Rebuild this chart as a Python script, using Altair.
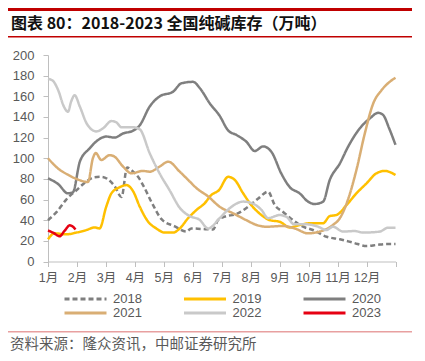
import altair as alt
import pandas as pd

years = ["2018", "2019", "2020", "2021", "2022", "2023"]
colors = ["#7F7F7F", "#FFC000", "#7F7F7F", "#D9AE74", "#C9C9C9", "#E60012"]
dashes = [[5, 3], [1, 0], [1, 0], [1, 0], [1, 0], [1, 0]]
month_labels = ["1月", "2月", "3月", "4月", "5月", "6月", "7月", "8月", "9月", "10月", "11月", "12月"]

title_text = "图表 80：2018-2023 全国纯碱库存（万吨）"
source_text = "资料来源：隆众资讯，中邮证券研究所"

# x positions are in months from the start of January (0 = 1月 tick)
x_2018 = [0, 0.3, 0.63, 0.98, 1.3, 1.6, 1.85, 2.05, 2.3, 2.54, 2.73, 2.94, 3.11, 3.3, 3.62, 3.92,
          4.38, 4.78, 4.95, 5.3, 5.7, 5.87, 6.1, 6.51, 6.91, 7.26, 7.6, 7.83, 8.12, 8.46, 8.81,
          9.15, 9.62, 10.08, 10.54, 11.0, 11.34, 11.69, 12.0]
v_2018 = [40, 48, 60, 69, 77, 81.5, 82, 80, 73, 62.5, 91, 87, 82, 73, 55, 41,
          34, 29, 32, 31.5, 31, 40, 43.4, 46, 53, 61, 67.6, 54.7, 48, 40, 33.7,
          30.5, 24, 21.5, 18.2, 15, 16, 17, 17]

x_2019 = [0, 0.23, 0.63, 0.98, 1.33, 1.61, 1.78, 2.01, 2.19, 2.48, 2.71, 2.94, 3.17, 3.46, 3.74,
          4.03, 4.32, 4.55, 4.84, 5.13, 5.41, 5.64, 5.9, 6.22, 6.45, 6.74, 7.02, 7.37, 7.66,
          8.0, 8.35, 8.69, 9.04, 9.5, 9.73, 9.96, 10.31, 10.65, 11.0, 11.34, 11.63, 12.0]
v_2019 = [21.5, 27.3, 26.3, 28, 30.5, 33, 32, 53, 66, 72, 74, 68, 53, 38.5, 32,
          28, 28, 32, 42, 50, 56.4, 64.4, 69, 82, 79, 66, 54.7, 45, 40,
          38.5, 33, 35.4, 37, 37, 44, 45, 54.7, 66, 75.7, 85.4, 87.7, 83.8]

x_2020 = [0, 0.35, 0.69, 0.86, 1.1, 1.44, 1.73, 2.02, 2.3, 2.59, 2.94, 3.17, 3.51, 3.86, 4.32,
          4.61, 5.01, 5.24, 5.59, 5.93, 6.22, 6.51, 6.85, 7.14, 7.43, 7.72, 8.06, 8.35, 8.69,
          8.98, 9.21, 9.5, 9.73, 10.08, 10.36, 10.77, 11.12, 11.4, 11.57, 11.78, 12.0]
v_2020 = [80.6, 75, 66, 67, 96.7, 109.6, 117.7, 121, 120, 124, 126.7, 132, 150, 160, 164.5,
          172.6, 174, 168, 153, 141, 127, 122.5, 116, 107, 111.5, 106, 85, 72, 66,
          58, 55.7, 58, 79, 95, 111, 129, 138.7, 144, 142, 129, 113]

x_2021 = [0, 0.35, 0.69, 0.98, 1.38, 1.55, 1.65, 1.84, 2.13, 2.3, 2.59, 2.88, 3.28, 3.51, 3.86,
          4.15, 4.55, 4.84, 5.13, 5.53, 5.93, 6.39, 6.85, 7.2, 7.54, 8.12, 8.52, 8.98, 9.38,
          9.84, 10.08, 10.36, 10.65, 10.94, 11.23, 11.52, 11.8, 12.0]
v_2021 = [100, 90, 84, 80, 77, 100, 105, 98.3, 103, 101.5, 92, 85.4, 87.7, 87, 92,
          96.7, 87, 79, 71, 63, 53, 46.7, 40, 35.4, 33.7, 34.4, 32, 27.3, 29,
          35.4, 42, 60, 88.6, 124, 153, 166, 174, 178]

x_2022 = [0, 0.17, 0.35, 0.55, 0.69, 0.8, 0.92, 1.1, 1.35, 1.67, 1.9, 2.19, 2.35, 2.54, 2.94,
          3.17, 3.51, 3.86, 4.2, 4.55, 4.89, 5.23, 5.53, 5.93, 6.27, 6.74, 7.08, 7.37, 7.6,
          8.0, 8.25, 8.5, 8.93, 9.3, 9.62, 9.84, 10.19, 10.59, 10.88, 11.46, 11.74, 12.0]
v_2022 = [177, 175, 166, 150, 145, 155, 161, 150, 133, 126, 129, 136, 135, 130, 130,
          128, 105, 85, 69, 52, 44, 40.5, 32, 42, 51.5, 58, 56, 50, 42,
          45, 43, 36, 36, 34, 30.5, 33.7, 29, 29.5, 28, 29, 32.7, 32.7]

x_2023 = [0, 0.17, 0.4, 0.58, 0.75, 0.85, 0.95]
v_2023 = [30, 28, 24.5, 30, 35, 34, 31]

series_x = [x_2018, x_2019, x_2020, x_2021, x_2022, x_2023]
series_v = [v_2018, v_2019, v_2020, v_2021, v_2022, v_2023]
rows = []
for yr, xs, vs in zip(years, series_x, series_v):
    for xv, vv in zip(xs, vs):
        rows.append({"year": yr, "month": xv, "value": vv})
df = pd.DataFrame(rows)

FONT = "Liberation Sans, Arial, Noto Sans CJK SC"
CJK = "Noto Sans CJK SC"

legend = alt.Legend(
    orient="none", legendX=15, legendY=237, columns=3, direction="horizontal",
    gridAlign="all", symbolType="stroke", symbolSize=1764, symbolStrokeWidth=3,
    labelFontSize=13, labelColor="#595959", labelFont=FONT, clipHeight=14, rowPadding=0,
    columnPadding=40.5, labelOffset=5, title=None, padding=0,
)

lines = alt.Chart(df).mark_line(strokeWidth=2.5, interpolate="monotone").encode(
    x=alt.X("month:Q", scale=alt.Scale(domain=[0, 12], nice=False, zero=False),
            axis=alt.Axis(values=list(range(13)), title=None, grid=False, tickSize=5,
                          labelPadding=5, labelFontSize=12.5, labelColor="#595959", labelFont=FONT,
                          labelOverlap=False, labelBound=False, labelFlush=False,
                          domainColor="#BFBFBF", tickColor="#BFBFBF",
                          labelExpr="datum.value < 12 ? (datum.value + 1) + '月' : ''")),
    y=alt.Y("value:Q", scale=alt.Scale(domain=[0, 200], nice=False),
            axis=alt.Axis(values=list(range(0, 201, 20)), title=None, grid=False, tickSize=5,
                          labelPadding=9, labelFontSize=13, labelColor="#595959", labelFont=FONT,
                          labelFlush=False, domainColor="#BFBFBF", tickColor="#BFBFBF")),
    color=alt.Color("year:N", scale=alt.Scale(domain=years, range=colors), legend=legend),
    strokeDash=alt.StrokeDash("year:N", scale=alt.Scale(domain=years, range=dashes), legend=legend),
    order=alt.Order("year:N"),
)

one = pd.DataFrame({"title": [title_text], "source": [source_text]})

title_mark = alt.Chart(one).mark_text(
    align="left", baseline="middle", font=CJK, fontSize=16, fontWeight="bold", color="#111111"
).encode(x=alt.value(-37), y=alt.value(-31), text="title:N")

source_mark = alt.Chart(one).mark_text(
    align="left", baseline="middle", font=CJK, fontSize=14.5, color="#595959"
).encode(x=alt.value(-38), y=alt.value(290), text="source:N")

rule_top = alt.Chart(one).mark_rule(color="#C00000", strokeWidth=3).encode(
    x=alt.value(-40), x2=alt.value(364), y=alt.value(-45.5))
rule_title = alt.Chart(one).mark_rule(color="#C00000", strokeWidth=1.5).encode(
    x=alt.value(-40), x2=alt.value(364), y=alt.value(-18.3))
rule_source = alt.Chart(one).mark_rule(color="#E8A0A0", strokeWidth=1.5).encode(
    x=alt.value(-40), x2=alt.value(364), y=alt.value(276.7))

chart = alt.layer(lines, rule_top, rule_title, rule_source, title_mark, source_mark).properties(
    width=347.5, height=206.5,
    autosize=alt.AutoSizeParams(type="none"),
    padding={"left": 40, "top": 47, "right": 21, "bottom": 91},
).configure_view(stroke=None)

chart.save("out.html", embed_options={"renderer": "svg", "actions": False})
